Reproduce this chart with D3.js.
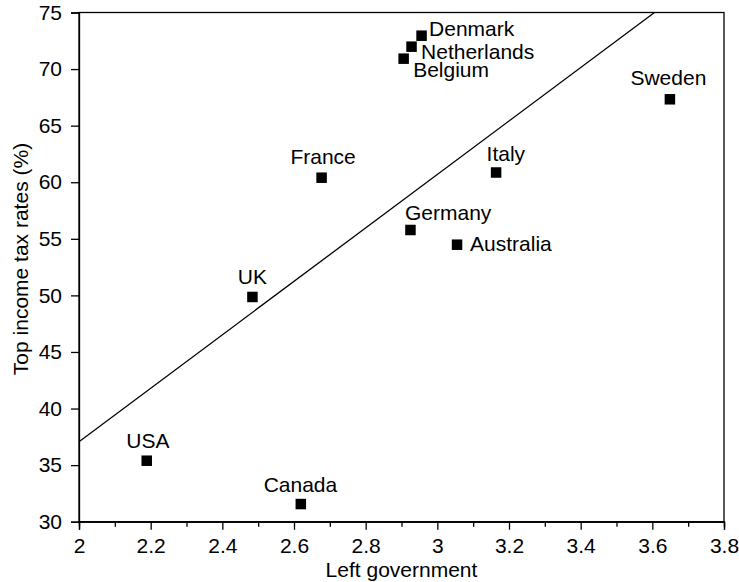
<!DOCTYPE html>
<html>
<head>
<meta charset="utf-8">
<script src="https://cdn.jsdelivr.net/npm/d3@7"></script>
<style>
  html, body { margin: 0; padding: 0; background: #fff; }
  svg text { font-family: "Liberation Sans", Arial, Helvetica, sans-serif; fill: #000; }
</style>
</head>
<body>
<svg id="chart" width="739" height="582"></svg>
<script>
// Countries: left government score vs. top income tax rate (%)
const countries = ["Denmark", "Netherlands", "Belgium", "Sweden", "France", "Italy",
                   "Germany", "Australia", "UK", "USA", "Canada"];
const leftGov   = [2.956, 2.928, 2.906, 3.649, 2.677, 3.164, 2.925, 3.055, 2.484, 2.189, 2.619];
const topTax    = [72.95, 71.98, 70.92, 67.33, 60.40, 60.86, 55.78, 54.48, 49.86, 35.39, 31.56];

// Fitted line through the cloud (endpoints in data units)
const fitX = [2.0, 3.606];
const fitY = [37.07, 75.0];

// Axis ticks
const xTicks = [2, 2.2, 2.4, 2.6, 2.8, 3, 3.2, 3.4, 3.6, 3.8];
const xMinorTicks = [2.1, 2.3, 2.5, 2.7, 2.9, 3.1, 3.3, 3.5, 3.7];
const yTicks = [30, 35, 40, 45, 50, 55, 60, 65, 70, 75];

// Where each country's label sits relative to its marker
const labelPlace = {
  "Denmark":     { anchor: "start",  dx: 7.5,  dy: 0 },
  "Netherlands": { anchor: "start",  dx: 9.5,  dy: 12 },
  "Belgium":     { anchor: "start",  dx: 9.5,  dy: 18.5 },
  "Sweden":      { anchor: "middle", dx: -1.5, dy: -14 },
  "France":      { anchor: "middle", dx: 1.5,  dy: -13.5 },
  "Italy":       { anchor: "start",  dx: -9.5, dy: -11.8 },
  "Germany":     { anchor: "start",  dx: -5.5, dy: -10 },
  "Australia":   { anchor: "start",  dx: 13,   dy: 6.5 },
  "UK":          { anchor: "middle", dx: 0,    dy: -13 },
  "USA":         { anchor: "middle", dx: 1.2,  dy: -12.4 },
  "Canada":      { anchor: "middle", dx: -0.4, dy: -12.3 }
};

const W = 739, H = 582;
const margin = { top: 12.5, right: 15, bottom: 60.3, left: 79 };
const iw = W - margin.left - margin.right;
const ih = H - margin.top - margin.bottom;
const fontSize = 21;

const svg = d3.select("#chart");
const g = svg.append("g").attr("transform", `translate(${margin.left},${margin.top})`);

const x = d3.scaleLinear().domain([2, 3.8]).range([0, iw]);
const y = d3.scaleLinear().domain([30, 75]).range([ih, 0]);

// Frame
g.append("rect")
  .attr("x", 0).attr("y", 0).attr("width", iw).attr("height", ih)
  .attr("fill", "none").attr("stroke", "#000").attr("stroke-width", 1.3);

// X axis: major ticks with labels
const xAxis = d3.axisBottom(x).tickValues(xTicks).tickSize(8).tickPadding(8)
  .tickFormat(d => d3.format("~g")(d));
const gx = g.append("g").attr("transform", `translate(0,${ih})`).call(xAxis);
// X axis: minor ticks
const gxm = g.append("g").attr("transform", `translate(0,${ih})`)
  .call(d3.axisBottom(x).tickValues(xMinorTicks).tickSize(5).tickFormat(""));

// Y axis
const yAxis = d3.axisLeft(y).tickValues(yTicks).tickSize(8).tickPadding(9)
  .tickFormat(d3.format("d"));
const gy = g.append("g").call(yAxis);

[gx, gxm, gy].forEach(a => {
  a.select(".domain").attr("stroke", "#000").attr("stroke-width", 1.3);
  a.selectAll(".tick line").attr("stroke", "#000").attr("stroke-width", 1.3);
  a.selectAll(".tick text").attr("font-size", fontSize)
    .attr("font-family", "'Liberation Sans', Arial, sans-serif").attr("fill", "#000");
});
gx.selectAll(".tick text").attr("dy", "0.71em");

// Fitted line
const fitPts = fitX.map((v, i) => [v, fitY[i]]);
g.append("path")
  .datum(fitPts)
  .attr("d", d3.line().x(d => x(d[0])).y(d => y(d[1])))
  .attr("fill", "none").attr("stroke", "#000").attr("stroke-width", 1.3);

// Markers
const pts = countries.map((c, i) => ({ name: c, lx: leftGov[i], tax: topTax[i] }));
const sq = 10.5;
g.selectAll("rect.pt").data(pts).enter().append("rect")
  .attr("class", "pt")
  .attr("x", d => x(d.lx) - sq / 2)
  .attr("y", d => y(d.tax) - sq / 2)
  .attr("width", sq).attr("height", sq)
  .attr("fill", "#000");

// Country labels
g.selectAll("text.lbl").data(pts).enter().append("text")
  .attr("class", "lbl")
  .attr("x", d => x(d.lx) + labelPlace[d.name].dx)
  .attr("y", d => y(d.tax) + labelPlace[d.name].dy)
  .attr("text-anchor", d => labelPlace[d.name].anchor)
  .attr("font-size", fontSize)
  .text(d => d.name);

// Axis titles
svg.append("text")
  .attr("x", margin.left + iw / 2).attr("y", 576.5)
  .attr("text-anchor", "middle").attr("font-size", fontSize)
  .text("Left government");

svg.append("text")
  .attr("transform", "translate(28,259) rotate(-90)")
  .attr("text-anchor", "middle").attr("font-size", fontSize)
  .text("Top income tax rates (%)");
</script>
</body>
</html>
